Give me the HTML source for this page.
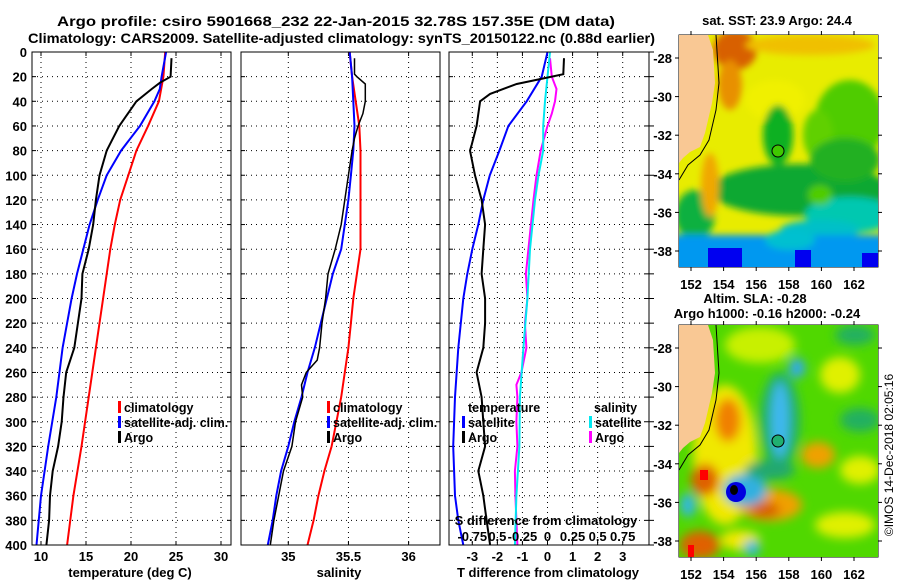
<!DOCTYPE html>
<html><head><meta charset="utf-8">
<style>
html,body{margin:0;padding:0;background:#fff;}
svg{display:block;font-family:"Liberation Sans",Arial,sans-serif;font-weight:bold;}
</style></head>
<body>
<svg id="chart" width="900" height="580" viewBox="0 0 900 580" xmlns="http://www.w3.org/2000/svg">
<defs>
<clipPath id="c1"><rect x="32" y="52" width="199" height="493"/></clipPath>
<clipPath id="c2"><rect x="241" y="52" width="199" height="493"/></clipPath>
<clipPath id="c3"><rect x="449" y="52" width="200" height="493"/></clipPath>
<clipPath id="m1"><rect x="679" y="35" width="199" height="232"/></clipPath>
<clipPath id="m2"><rect x="679" y="325" width="199" height="232"/></clipPath>
<filter id="b4" x="-50%" y="-50%" width="200%" height="200%"><feGaussianBlur stdDeviation="3.5"/></filter>
<filter id="b7" x="-50%" y="-50%" width="200%" height="200%"><feGaussianBlur stdDeviation="5"/></filter>
</defs>
<text x="57" y="26" font-size="14" textLength="558" lengthAdjust="spacingAndGlyphs">Argo profile: csiro 5901668_232 22-Jan-2015 32.78S 157.35E (DM data)</text>
<text x="28" y="43" font-size="14" textLength="627" lengthAdjust="spacingAndGlyphs">Climatology: CARS2009. Satellite-adjusted climatology: synTS_20150122.nc (0.88d earlier)</text>
<g id="g"></g>
<!-- map 1 -->
<g clip-path="url(#m1)">
<rect x="679" y="35" width="199" height="232" fill="#e8ec00"/>
<g filter="url(#b4)">
<ellipse cx="735" cy="50" rx="22" ry="20" fill="#d86000"/>
<ellipse cx="730" cy="85" rx="12" ry="25" fill="#e89000"/>
<ellipse cx="810" cy="45" rx="65" ry="10" fill="#f0c000"/>
<ellipse cx="775" cy="100" rx="30" ry="20" fill="#f0f000"/>
<ellipse cx="850" cy="120" rx="35" ry="40" fill="#50cc00"/>
<ellipse cx="818" cy="135" rx="15" ry="25" fill="#60d000"/>
<ellipse cx="778" cy="135" rx="15" ry="30" fill="#10b020"/>
<ellipse cx="800" cy="190" rx="90" ry="26" fill="#10a830"/>
<ellipse cx="845" cy="160" rx="35" ry="22" fill="#20b020"/>
<ellipse cx="850" cy="215" rx="45" ry="18" fill="#00c8b0"/>
<ellipse cx="820" cy="230" rx="40" ry="10" fill="#00c0c8"/>
<ellipse cx="695" cy="215" rx="20" ry="25" fill="#10b040"/>
<ellipse cx="710" cy="185" rx="9" ry="32" fill="#f0a800"/>
<ellipse cx="820" cy="195" rx="12" ry="10" fill="#50cc00"/>
<rect x="660" y="235" width="240" height="50" fill="#0098f0"/>
<ellipse cx="790" cy="240" rx="25" ry="10" fill="#00c0d0"/>
</g>
<rect x="708" y="248" width="34" height="19" fill="#0000f0"/>
<rect x="795" y="250" width="16" height="17" fill="#0000f0"/>
<rect x="862" y="253" width="16" height="14" fill="#0000f0"/>
<polygon points="679,35 708,35 713,50 715,83 712,103 705,133 700,147 690,152 683,158 679,163" fill="#f9c894"/>
<polyline points="716,35 719,83 716,110 709,140 700,155 688,165 679,180" fill="none" stroke="#000" stroke-width="1"/>
<circle cx="778" cy="151" r="6" fill="#40c800" stroke="#000" stroke-width="1"/>
</g>
<!-- map 2 -->
<g clip-path="url(#m2)">
<rect x="679" y="325" width="199" height="232" fill="#50d800"/>
<g filter="url(#b7)">
<ellipse cx="760" cy="345" rx="35" ry="18" fill="#c8f000"/>
<ellipse cx="725" cy="455" rx="32" ry="70" fill="#f0e800"/>
<ellipse cx="728" cy="420" rx="13" ry="22" fill="#f08000"/>
<ellipse cx="705" cy="480" rx="14" ry="16" fill="#e06000"/>
<ellipse cx="770" cy="505" rx="32" ry="16" fill="#f0a000"/>
<ellipse cx="765" cy="510" rx="15" ry="8" fill="#d86000"/>
<ellipse cx="818" cy="455" rx="17" ry="13" fill="#f0a000"/>
<ellipse cx="840" cy="375" rx="20" ry="18" fill="#e0f000"/>
<ellipse cx="860" cy="470" rx="20" ry="14" fill="#e0f000"/>
<ellipse cx="845" cy="525" rx="30" ry="13" fill="#e0f000"/>
<ellipse cx="700" cy="545" rx="20" ry="14" fill="#e06000"/>
<ellipse cx="740" cy="540" rx="20" ry="10" fill="#f0e800"/>
<ellipse cx="780" cy="420" rx="20" ry="48" fill="#20b070"/>
<ellipse cx="780" cy="420" rx="9" ry="38" fill="#40b8f0"/>
<ellipse cx="745" cy="490" rx="22" ry="16" fill="#30b0e0"/>
<ellipse cx="797" cy="368" rx="8" ry="10" fill="#30a8f0"/>
<ellipse cx="770" cy="470" rx="25" ry="10" fill="#20a870"/>
<ellipse cx="855" cy="335" rx="20" ry="10" fill="#20b060"/>
<ellipse cx="860" cy="420" rx="20" ry="12" fill="#20b060"/>
<ellipse cx="688" cy="505" rx="8" ry="12" fill="#30b8e0"/>
<ellipse cx="752" cy="548" rx="8" ry="8" fill="#30b8e0"/>
</g>
<ellipse cx="736" cy="492" rx="10" ry="10" fill="#0000e0"/>
<ellipse cx="734" cy="490" rx="4" ry="5" fill="#000"/>
<rect x="700" y="470" width="8" height="10" fill="#ff0000"/>
<rect x="688" y="545" width="6" height="12" fill="#ff0000"/>
<polygon points="679,325 708,325 713,340 715,373 712,393 705,423 700,437 690,442 683,448 679,453" fill="#f9c894"/>
<polyline points="716,325 719,373 716,400 709,430 700,445 688,455 679,470" fill="none" stroke="#000" stroke-width="1"/>
<circle cx="778" cy="441" r="6" fill="#20b070" stroke="#000" stroke-width="1"/>
</g>
<text x="777" y="25" font-size="13" text-anchor="middle">sat. SST: 23.9 Argo: 24.4</text>
<text x="755" y="303" font-size="13" text-anchor="middle">Altim. SLA: -0.28</text>
<text x="767" y="318" font-size="13" text-anchor="middle">Argo h1000: -0.16 h2000: -0.24</text>
<text font-size="12" font-weight="normal" text-anchor="middle" transform="translate(893,455) rotate(-90)">©IMOS 14-Dec-2018 02:05:16</text>
</svg>
<script>
// ---- data ----
const depthTclim = [0,20,40,60,80,100,120,140,160,180,200,240,280,320,360,400];
const tempClim   = [23.8,23.6,23.1,21.9,20.6,19.7,18.8,18.2,17.7,17.3,16.9,16.1,15.3,14.5,13.6,12.9];
const depthTsat  = [0,20,30,40,60,80,100,120,140,160,180,200,240,280,320,360,400];
const tempSat    = [23.9,23.4,23.2,22.6,21.0,18.9,17.3,16.3,15.4,14.7,14.0,13.4,12.4,11.7,10.8,10.0,9.5];
const depthArgo  = [5,20,25,30,40,60,80,100,120,140,160,180,200,220,240,260,280,300,320,340,360,380,400];
const tempArgo   = [24.5,24.4,23.2,22.3,20.6,18.7,17.3,16.5,16.1,15.8,15.3,14.6,14.5,14.1,13.7,12.8,12.5,12.3,11.9,11.3,11.0,10.9,10.6];

const depthS     = [0,20,40,60,80,100,120,140,160,180,200,220,240,260,280,300,320,340,360,380,400];
const salClim    = [35.51,35.53,35.56,35.59,35.6,35.6,35.6,35.6,35.6,35.57,35.54,35.52,35.5,35.47,35.44,35.4,35.36,35.3,35.25,35.21,35.16];
const salSat     = [35.51,35.53,35.54,35.55,35.54,35.52,35.5,35.47,35.44,35.37,35.32,35.27,35.22,35.16,35.11,35.05,35.0,34.94,34.9,34.87,34.83];
const depthSargo = [5,18,20,26,40,50,60,70,80,100,120,140,160,180,200,220,240,250,260,270,280,300,320,340,360,380,400];
const salArgo    = [35.55,35.55,35.57,35.64,35.64,35.62,35.58,35.55,35.53,35.5,35.47,35.44,35.39,35.33,35.31,35.28,35.26,35.24,35.15,35.11,35.12,35.06,35.03,34.96,34.92,34.88,34.85];

const depthDsat  = [0,20,40,60,80,100,120,140,160,180,200,240,280,320,360,380,400];
const dTsat      = [0,-0.23,-0.83,-1.56,-1.92,-2.3,-2.56,-2.76,-3.0,-3.2,-3.36,-3.56,-3.69,-3.76,-3.69,-3.56,-3.36];
const depthDargo = [5,18,22,26,34,40,60,75,80,100,120,140,160,180,200,220,240,260,280,300,320,340,360,380,400];
const dTargo     = [0.66,0.63,-0.3,-1.23,-2.29,-2.69,-2.83,-3.02,-3.09,-2.89,-2.63,-2.49,-2.56,-2.63,-2.49,-2.49,-2.56,-2.83,-2.63,-2.56,-2.49,-2.76,-2.56,-2.43,-2.29];
const depthDSsat = [0,20,40,60,80,100,120,160,200,240,280,320,360,400];
const dSsat      = [0.025,0,-0.025,-0.043,-0.043,-0.09,-0.125,-0.175,-0.2,-0.24,-0.275,-0.28,-0.31,-0.325];
const depthDSargo= [5,20,30,40,50,60,80,100,120,160,180,200,220,240,260,270,280,300,320,340,360,400];
const dSargo     = [0.025,0.043,0.09,0.075,0.043,0,-0.068,-0.11,-0.14,-0.19,-0.215,-0.2,-0.225,-0.21,-0.26,-0.31,-0.3,-0.31,-0.3,-0.325,-0.32,-0.3];

const depthTicks = [0,20,40,60,80,100,120,140,160,180,200,220,240,260,280,300,320,340,360,380,400];
const tTicks = [10,15,20,25,30];
const sTicks = [35,35.5,36];
const dTTicks = [-3,-2,-1,0,1,2,3];
const dSTicks = [-0.75,-0.5,-0.25,0,0.25,0.5,0.75];
const dSLabels = ['-0.75','0.5','-0.25','0','0.25','0.5','0.75'];
const lonTicks = [152,154,156,158,160,162];
const latTicks = [-28,-30,-32,-34,-36,-38];

// ---- scales ----
const yD = d => 52 + d * 1.2325;
const xT = v => 41 + (v - 10) * 9.0;
const xS = v => 288.3 + (v - 35) * 120.3;
const xDT = v => 547.5 + v * 25.07;
const xDS = v => 547.5 + v * 4 * 25.07;
const lonX = v => 691 + (v - 152) * 16.3;
const latY1 = v => 58 + (-28 - v) * 19.3;
const latY2 = v => 348 + (-28 - v) * 19.3;

const NS = 'http://www.w3.org/2000/svg';
const G = document.getElementById('g');
function mk(tag, attrs, parent) {
  const e = document.createElementNS(NS, tag);
  for (const k in attrs) e.setAttribute(k, attrs[k]);
  (parent || G).appendChild(e);
  return e;
}
function txt(s, x, y, anchor, size, parent) {
  const e = mk('text', {x: x, y: y, 'text-anchor': anchor, 'font-size': size}, parent);
  e.textContent = s;
  return e;
}

const panels = [
  {x0: 32, x1: 231, clip: 'c1', name: 'temperature-panel'},
  {x0: 241, x1: 440, clip: 'c2', name: 'salinity-panel'},
  {x0: 449, x1: 649, clip: 'c3', name: 'difference-panel'}
];
const y0 = 52, y1 = 545;

panels.forEach((p, i) => {
  const g = mk('g', {});
  
  
  p.g = g;
  depthTicks.forEach(d => {
    if (d > 0 && d < 400) {
      const l = mk('line', {x1: p.x0, x2: p.x1, y1: yD(d), y2: yD(d), stroke: '#000', 'stroke-width': 1, 'stroke-dasharray': '1,4'}, g);
      
      
    }
    mk('line', {x1: p.x0, x2: p.x0 + 4, y1: yD(d), y2: yD(d), stroke: '#000'}, g);
    mk('line', {x1: p.x1, x2: p.x1 - 4, y1: yD(d), y2: yD(d), stroke: '#000'}, g);
    if (i === 2) mk('line', {x1: p.x1, x2: p.x1 + 5, y1: yD(d), y2: yD(d), stroke: '#000'}, g);
  });
});

depthTicks.forEach(d => {
  const t = txt(String(d), 27, yD(d) + 5, 'end', 13);
  
  
});

function vgrid(g, xs) {
  xs.forEach(x => {
    const l = mk('line', {x1: x, x2: x, y1: y0, y2: y1, stroke: '#000', 'stroke-dasharray': '1,4'}, g);
    
    
    mk('line', {x1: x, x2: x, y1: y0, y2: y0 + 4, stroke: '#000'}, g);
    mk('line', {x1: x, x2: x, y1: y1, y2: y1 - 4, stroke: '#000'}, g);
  });
}
vgrid(panels[0].g, tTicks.map(xT));
vgrid(panels[1].g, sTicks.map(xS));
vgrid(panels[2].g, dTTicks.map(xDT));

tTicks.forEach(v => {
  const t = txt(String(v), xT(v), 561, 'middle', 13);
  
  
});
sTicks.forEach(v => {
  const t = txt(String(v), xS(v), 561, 'middle', 13);
  
  
});
dTTicks.forEach(v => {
  const t = txt(String(v), xDT(v), 561, 'middle', 13);
  
  
});
dSTicks.forEach((v, k) => {
  const t = txt(dSLabels[k], xDS(v), 541, 'middle', 13);
  
  
});
let t;
t = txt('temperature (deg C)', 130, 577, 'middle', 13);


t = txt('salinity', 339, 577, 'middle', 13);


t = txt('T difference from climatology', 548, 577, 'middle', 13);


t = txt('S difference from climatology', 546, 525, 'middle', 13);



function line(p, xs, ds, fx, color, w, name) {
  const pts = xs.map((v, k) => fx(v).toFixed(1) + ',' + yD(ds[k]).toFixed(1)).join(' ');
  const e = mk('polyline', {points: pts, fill: 'none', stroke: color, 'stroke-width': w, 'clip-path': 'url(#' + p.clip + ')'}, p.g);
  
  
}
line(panels[0], tempClim, depthTclim, xT, '#ff0000', 2, 'temperature-climatology-line');
line(panels[0], tempSat, depthTsat, xT, '#0000ff', 2, 'temperature-satellite-line');
line(panels[0], tempArgo, depthArgo, xT, '#000', 2, 'temperature-argo-line');
line(panels[1], salClim, depthS, xS, '#ff0000', 2, 'salinity-climatology-line');
line(panels[1], salSat, depthS, xS, '#0000ff', 2, 'salinity-satellite-line');
line(panels[1], salArgo, depthSargo, xS, '#000', 1.5, 'salinity-argo-line');
line(panels[2], dSargo, depthDSargo, xDS, '#ff00ff', 2, 's-diff-argo-line');
line(panels[2], dSsat, depthDSsat, xDS, '#00e8f0', 2, 's-diff-satellite-line');
line(panels[2], dTsat, depthDsat, xDT, '#0000ff', 2, 't-diff-satellite-line');
line(panels[2], dTargo, depthDargo, xDT, '#000', 2, 't-diff-argo-line');

panels.forEach(p => {
  mk('rect', {x: p.x0, y: y0, width: p.x1 - p.x0, height: y1 - y0, fill: 'none', stroke: '#000', 'stroke-width': 1}, p.g);
});

function legItem(x, y, color, label, name) {
  const g = mk('g', {});
  
  
  mk('rect', {x: x, y: y - 11, width: 3, height: 12, fill: color}, g);
  txt(label, x + 6, y, 'start', 12.5, g);
  return g;
}
legItem(118, 412, '#ff0000', 'climatology', 'legend-climatology');
legItem(118, 427, '#0000ff', 'satellite-adj. clim.', 'legend-satellite');
legItem(118, 442, '#000', 'Argo', 'legend-argo');
legItem(327, 412, '#ff0000', 'climatology', 'legend-climatology-2');
legItem(327, 427, '#0000ff', 'satellite-adj. clim.', 'legend-satellite-2');
legItem(327, 442, '#000', 'Argo', 'legend-argo-2');
t = txt('temperature', 468, 412, 'start', 12.5);


t = txt('salinity', 594, 412, 'start', 12.5);


legItem(462, 427, '#0000ff', 'satellite', 'legend-t-satellite');
legItem(462, 442, '#000', 'Argo', 'legend-t-argo');
legItem(589, 427, '#00e8f0', 'satellite', 'legend-s-satellite');
legItem(589, 442, '#ff00ff', 'Argo', 'legend-s-argo');

[[latY1, 35, 267, 289, 'sst'], [latY2, 325, 557, 579, 'sla']].forEach(([ly, top, bot, lb, nm]) => {
  const g = mk('g', {});
  
  
  mk('rect', {x: 679, y: top, width: 199, height: bot - top, fill: 'none', stroke: '#000'}, g);
  lonTicks.forEach(v => {
    mk('line', {x1: lonX(v), x2: lonX(v), y1: top, y2: top - 4, stroke: '#000'}, g);
    mk('line', {x1: lonX(v), x2: lonX(v), y1: bot, y2: bot + 4, stroke: '#000'}, g);
    const e = txt(String(v), lonX(v), lb, 'middle', 13, g);
    
    
  });
  latTicks.forEach(v => {
    mk('line', {x1: 679, x2: 675, y1: ly(v), y2: ly(v), stroke: '#000'}, g);
    mk('line', {x1: 878, x2: 882, y1: ly(v), y2: ly(v), stroke: '#000'}, g);
    const e = txt(String(v), 672, ly(v) + 5, 'end', 13, g);
    
    
  });
});
</script>
</body></html>
